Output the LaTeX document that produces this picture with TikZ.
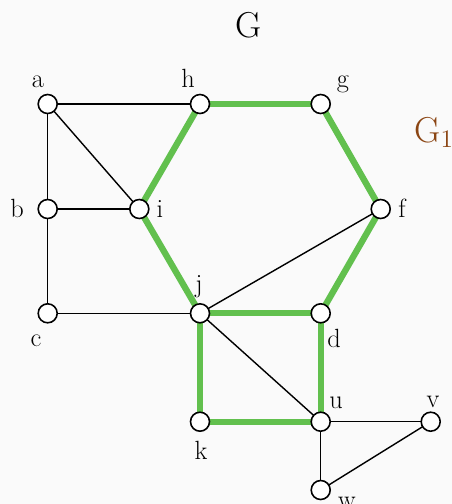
\documentclass[tikz,border=0pt]{standalone}
\usepackage{fix-cm}
\usepackage{tikz}
\usetikzlibrary{positioning}

\definecolor{bgcol}{HTML}{FAFAFA}
\definecolor{pathgreen}{HTML}{62C04E}
\definecolor{subbrown}{HTML}{8B4513}

\begin{document}
\begin{tikzpicture}[
  x=0.02cm, y=-0.02cm,
  vertex/.style={circle, draw=black, fill=white, line width=0.9pt,
    minimum size=0.38cm, inner sep=0pt},
  edge/.style={draw=black, line width=0.8pt},
  cycle/.style={draw=pathgreen, line width=3.6pt},
  vlabel/.style={font=\fontsize{15}{17}\selectfont, inner sep=0pt, anchor=base},
  title/.style={font=\fontsize{20.5}{24}\selectfont, inner sep=0pt, anchor=base},
]
%% ── Background / bounding box ──
\fill[bgcol] (0,0) rectangle (452,504);
\useasboundingbox (0,0) rectangle (452,504);

%% ── Vertex positions ──
\coordinate (a) at (47.7,104);
\coordinate (h) at (200,104);
\coordinate (g) at (320.7,104);
\coordinate (b) at (47.7,209);
\coordinate (i) at (139.3,209);
\coordinate (f) at (380.7,209);
\coordinate (c) at (47.7,313.3);
\coordinate (j) at (200,313.3);
\coordinate (d) at (320.7,313.3);
\coordinate (k) at (200,421.7);
\coordinate (u) at (320.7,421.7);
\coordinate (v) at (430.7,421.7);
\coordinate (w) at (320.7,490);

%% ── Black edges ──
\draw[edge] (a) -- (h);
\draw[edge] (a) -- (b);
\draw[edge] (a) -- (i);
\draw[edge] (b) -- (i);
\draw[edge] (b) -- (c);
\draw[edge] (c) -- (j);
\draw[edge] (j) -- (f);
\draw[edge] (j) -- (u);
\draw[edge] (u) -- (v);
\draw[edge] (u) -- (w);
\draw[edge] (v) -- (w);

%% ── Highlighted subgraph G1 (green) ──
\draw[cycle] (h) -- (g);
\draw[cycle] (g) -- (f);
\draw[cycle] (f) -- (d);
\draw[cycle] (h) -- (i);
\draw[cycle] (i) -- (j);
\draw[cycle] (j) -- (d);
\draw[cycle] (d) -- (u);
\draw[cycle] (j) -- (k);
\draw[cycle] (k) -- (u);

%% ── Vertices (drawn on top) ──
\foreach \v in {a,h,g,b,i,f,c,j,d,k,u,v,w}
  \node[vertex] (n\v) at (\v) {};

%% ── Vertex labels ──
\node[vlabel] (la) at (38,87)   {a};
\node[vlabel] (lh) at (188,87)  {h};
\node[vlabel] (lg) at (343,87)  {g};
\node[vlabel] (lb) at (17,217)  {b};
\node[vlabel] (li) at (160,217) {i};
\node[vlabel] (lf) at (402,217) {f};
\node[vlabel] (lj) at (199,292) {j};
\node[vlabel] (lc) at (36,346)  {c};
\node[vlabel] (ld) at (334,347) {d};
\node[vlabel] (lk) at (201,459) {k};
\node[vlabel] (lu) at (336,408) {u};
\node[vlabel] (lv) at (433,407) {v};
\node[vlabel] (lw) at (347,508) {w};

%% ── Titles ──
\node[title] (G) at (249,37) {G};
\node[title, text=subbrown, anchor=base west] (G1) at (414,142) {G$_1$};
\end{tikzpicture}
\end{document}
